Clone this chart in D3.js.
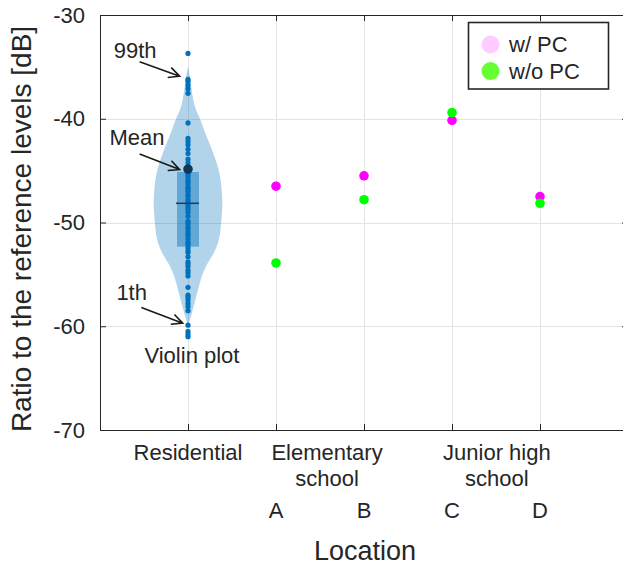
<!DOCTYPE html>
<html>
<head>
<meta charset="utf-8">
<script src="https://cdn.jsdelivr.net/npm/d3@7"></script>
<style>
    body { margin: 0; background: #fff; }
    text { font-family: 'Liberation Sans', Arial, sans-serif; fill: #262626; }
</style>
</head>
<body>
<div id="chart"></div>
<script>
// residential measurements (dB), one dot each
const residentialLevels = [
    -33.7, -36.2, -36.4, -36.75, -37.1, -37.55, -40.4, -41.9, -42.2, -42.5, -42.95, -43.35, -43.9, -44.25,
    -45.2, -45.4, -45.6, -45.9, -46.1, -46.3, -46.6, -46.8, -47.0, -47.3, -47.5, -47.8, -48.0, -48.3, -48.5, -48.7,
    -49.0, -49.4,
    -49.9, -50.1, -50.4, -50.6, -50.9, -51.1, -51.3, -51.6, -51.9, -52.1, -52.4, -52.7, -52.9, -53.3,
    -53.8, -54.0, -54.25, -54.6, -54.85, -55.15, -56.25, -57.0, -57.2, -57.45, -57.8, -58.1, -58.5,
    -59.9, -60.5, -60.75, -61.0
];

// violin outline: level (dB) and relative density
const violinLevels = [-35, -36, -37, -38, -39, -40, -41, -42, -43, -44, -45, -46, -47, -48,
    -49, -50, -51, -52, -53, -54, -55, -56, -57, -58, -59, -59.9];
const violinDensity = [0, 0.06, 0.10, 0.145, 0.22, 0.35, 0.46, 0.58, 0.70, 0.81, 0.90, 0.955, 0.985, 1.0,
    0.99, 0.965, 0.935, 0.87, 0.74, 0.56, 0.42, 0.33, 0.25, 0.17, 0.09, 0];

// q1, median, q3
const boxQuartiles = [-52.33, -48.15, -45.13];
const residentialMean = -44.85;

const schoolSites = ['A', 'B', 'C', 'D'];
const withPC = [-46.5, -45.5, -40.15, -47.5];
const withoutPC = [-53.9, -47.8, -39.4, -48.15];

const groupLabels = [['Elementary', 'school'], ['Junior high', 'school']];
const groupCenters = [2.58, 4.51];

const yTicks = [-70, -60, -50, -40, -30];

// 99th / Mean / 1th callouts, in data units
const annotations = [
    {label: '99th', text: [0.40, -33.45], from: [0.45, -34.5], to: [0.905, -35.9]},
    {label: 'Mean', text: [0.42, -41.75], from: [0.45, -43.4], to: [0.905, -44.9]},
    {label: '1th', text: [0.36, -56.7], from: [0.47, -58.2], to: [0.94, -59.7]}
];

function locationChart() {
    const width = 623;
    const height = 566;
    const margin = {
        top: 15,
        right: -5,
        bottom: 136,
        left: 100
    };
    const axisColor = '#262626';
    const gridColor = '#e3e3e3';
    const dotColor = '#0072BD';
    const violinHalfWidth = 0.39;

    let svg;
    let chart;
    let xScale;
    let yScale;
    let chartWidth;
    let chartHeight;

    function exports(_selection) {
        _selection.each(function() {
            chartWidth = width - margin.left - margin.right;
            chartHeight = height - margin.top - margin.bottom;

            buildScales();
            buildSVG(this);
            drawGrid();
            drawViolin();
            drawSchools();
            drawAxes();
            drawLegend();
            drawAnnotations();
            drawLabels();
        });
    }

    function buildScales() {
        xScale = d3.scaleLinear()
            .domain([0, 6])
            .range([0, chartWidth]);

        yScale = d3.scaleLinear()
            .domain([-70, -30])
            .range([chartHeight, 0]);
    }

    function buildSVG(container) {
        svg = d3.select(container)
          .append('svg')
            .attr('width', width)
            .attr('height', height);

        chart = svg.append('g')
            .attr('transform', `translate(${margin.left}, ${margin.top})`);
    }

    function drawGrid() {
        const grid = chart.append('g').classed('grid', true);

        grid.selectAll('.vgrid')
            .data(d3.range(1, 6))
          .enter().append('line')
            .attr('x1', d => Math.round(xScale(d)) + 0.5)
            .attr('x2', d => Math.round(xScale(d)) + 0.5)
            .attr('y1', 0)
            .attr('y2', chartHeight)
            .attr('stroke', gridColor);

        grid.selectAll('.hgrid')
            .data(yTicks.slice(1, -1))
          .enter().append('line')
            .attr('x1', 0)
            .attr('x2', chartWidth)
            .attr('y1', d => Math.round(yScale(d)) + 0.5)
            .attr('y2', d => Math.round(yScale(d)) + 0.5)
            .attr('stroke', gridColor);
    }

    function drawViolin() {
        const g = chart.append('g').classed('violin', true);
        const cx = xScale(1);
        const halfPx = xScale(violinHalfWidth) - xScale(0);
        const outline = violinLevels.map((v, i) => [v, violinDensity[i]]);

        const area = d3.area()
            .y(d => yScale(d[0]))
            .x0(d => cx - d[1] * halfPx)
            .x1(d => cx + d[1] * halfPx)
            .curve(d3.curveCatmullRom);

        g.append('path')
            .datum(outline)
            .attr('d', area)
            .attr('fill', dotColor)
            .attr('fill-opacity', 0.3);

        const boxHalf = xScale(0.125) - xScale(0);
        g.append('rect')
            .attr('x', cx - boxHalf)
            .attr('width', boxHalf * 2)
            .attr('y', yScale(boxQuartiles[2]))
            .attr('height', yScale(boxQuartiles[0]) - yScale(boxQuartiles[2]))
            .attr('fill', dotColor)
            .attr('fill-opacity', 0.45);

        g.selectAll('.dot')
            .data(residentialLevels)
          .enter().append('circle')
            .attr('cx', cx)
            .attr('cy', d => yScale(d))
            .attr('r', 2.6)
            .attr('fill', dotColor);

        g.append('line')
            .attr('x1', cx - boxHalf - 1)
            .attr('x2', cx + boxHalf)
            .attr('y1', yScale(boxQuartiles[1]))
            .attr('y2', yScale(boxQuartiles[1]))
            .attr('stroke', '#1e3c5c')
            .attr('stroke-width', 1.5);

        g.append('circle')
            .attr('cx', cx)
            .attr('cy', yScale(residentialMean))
            .attr('r', 4.8)
            .attr('fill', '#0d3858');
    }

    function drawSchools() {
        const g = chart.append('g').classed('schools', true);

        g.selectAll('.with-pc')
            .data(withPC)
          .enter().append('circle')
            .attr('cx', (d, i) => xScale(i + 2))
            .attr('cy', d => yScale(d))
            .attr('r', 4.8)
            .attr('fill', '#ff00ff');

        g.selectAll('.without-pc')
            .data(withoutPC)
          .enter().append('circle')
            .attr('cx', (d, i) => xScale(i + 2))
            .attr('cy', d => yScale(d))
            .attr('r', 4.8)
            .attr('fill', '#00ff00');
    }

    function drawAxes() {
        const xTicks = d3.range(1, 6);
        const styleAxis = sel => {
            sel.selectAll('path, line').attr('stroke', axisColor);
            sel.selectAll('text').remove();
        };

        chart.append('g')
            .attr('transform', `translate(0, ${chartHeight})`)
            .call(d3.axisBottom(xScale).tickValues(xTicks).tickSize(-6).tickSizeOuter(0))
            .call(styleAxis);

        chart.append('g')
            .call(d3.axisTop(xScale).tickValues(xTicks).tickSize(-6).tickSizeOuter(0))
            .call(styleAxis);

        chart.append('g')
            .attr('transform', `translate(${chartWidth}, 0)`)
            .call(d3.axisRight(yScale).tickValues(yTicks).tickSize(-6).tickSizeOuter(0))
            .call(styleAxis);

        const left = chart.append('g')
            .call(d3.axisLeft(yScale).tickValues(yTicks).tickSize(-6).tickSizeOuter(0)
                .tickPadding(15).tickFormat(d => String(d)));
        left.selectAll('path, line').attr('stroke', axisColor);
        left.selectAll('text')
            .style('font-size', '22px')
            .style('font-family', "'Liberation Sans', Arial, sans-serif")
            .attr('fill', axisColor);
    }

    function drawLegend() {
        const items = [
            {label: 'w/ PC', color: '#ffccff'},
            {label: 'w/o PC', color: '#66ff33'}
        ];
        const lx = 468.5 - margin.left;
        const ly = 22.5 - margin.top;
        const g = chart.append('g')
            .classed('legend', true)
            .attr('transform', `translate(${lx}, ${ly})`);

        g.append('rect')
            .attr('width', 140)
            .attr('height', 66.5)
            .attr('fill', '#fff')
            .attr('stroke', axisColor)
            .attr('stroke-width', 1.6);

        const rows = g.selectAll('.item')
            .data(items)
          .enter().append('g')
            .attr('transform', (d, i) => `translate(0, ${22 + i * 26.5})`);

        rows.append('circle')
            .attr('cx', 22)
            .attr('cy', 0)
            .attr('r', 9)
            .attr('fill', d => d.color);

        rows.append('text')
            .attr('x', 40.5)
            .attr('y', 0)
            .attr('dy', '0.35em')
            .style('font-size', '22px')
            .text(d => d.label);
    }

    function drawAnnotations() {
        const g = chart.append('g').classed('annotations', true);

        annotations.forEach(a => {
            const x1 = xScale(a.from[0]);
            const y1 = yScale(a.from[1]);
            const x2 = xScale(a.to[0]);
            const y2 = yScale(a.to[1]);
            const ang = Math.atan2(y2 - y1, x2 - x1);
            const head = 12;
            const spread = 0.45;

            g.append('text')
                .attr('x', xScale(a.text[0]))
                .attr('y', yScale(a.text[1]))
                .attr('dy', '0.35em')
                .attr('text-anchor', 'middle')
                .style('font-size', '22px')
                .text(a.label);

            g.append('path')
                .attr('d', `M${x1},${y1}L${x2},${y2}` +
                    `M${x2 - head * Math.cos(ang - spread)},${y2 - head * Math.sin(ang - spread)}` +
                    `L${x2},${y2}` +
                    `L${x2 - head * Math.cos(ang + spread)},${y2 - head * Math.sin(ang + spread)}`)
                .attr('fill', 'none')
                .attr('stroke', '#1a1a1a')
                .attr('stroke-width', 1.6);
        });

        g.append('text')
            .attr('x', xScale(1.045))
            .attr('y', yScale(-62.8))
            .attr('dy', '0.35em')
            .attr('text-anchor', 'middle')
            .style('font-size', '22px')
            .text('Violin plot');
    }

    function drawLabels() {
        const g = chart.append('g').classed('labels', true);
        const row1 = 460 - margin.top;

        g.append('text')
            .attr('x', xScale(1))
            .attr('y', row1)
            .attr('text-anchor', 'middle')
            .style('font-size', '22px')
            .text('Residential');

        groupLabels.forEach((lines, i) => {
            g.selectAll(null)
                .data(lines)
              .enter().append('text')
                .attr('x', xScale(groupCenters[i]))
                .attr('y', (d, j) => row1 + j * 26)
                .attr('text-anchor', 'middle')
                .style('font-size', '22px')
                .text(d => d);
        });

        g.selectAll('.site')
            .data(schoolSites)
          .enter().append('text')
            .attr('x', (d, i) => xScale(i + 2))
            .attr('y', 518 - margin.top)
            .attr('text-anchor', 'middle')
            .style('font-size', '22px')
            .text(d => d);

        g.append('text')
            .attr('x', xScale(3) + 1)
            .attr('y', 559.5 - margin.top)
            .attr('text-anchor', 'middle')
            .style('font-size', '27px')
            .text('Location');

        g.append('text')
            .attr('transform', `translate(${31 - margin.left}, ${229 - margin.top}) rotate(-90)`)
            .attr('text-anchor', 'middle')
            .style('font-size', '28px')
            .text('Ratio to the reference levels [dB]');
    }

    return exports;
}

d3.select('#chart').call(locationChart());
</script>
</body>
</html>
